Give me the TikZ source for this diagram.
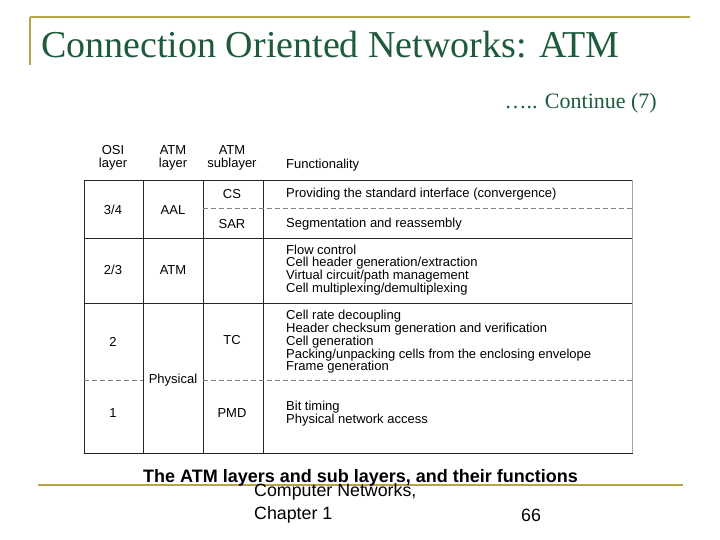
\documentclass[tikz,border=0pt]{standalone}
\usepackage{fontspec}
\setmainfont{Liberation Serif}
\newfontfamily\arial{Liberation Sans}
\definecolor{gold}{HTML}{B8A24A}
\definecolor{tgreen}{HTML}{1E5A3C}
\begin{document}
\begin{tikzpicture}[x=1pt,y=-1pt,
  tb/.style={font=\arial\fontsize{13}{13}\selectfont,inner sep=0pt,align=center},
  fn/.style={font=\arial\fontsize{13}{13}\selectfont,inner sep=0pt,align=left,anchor=west},
  grid/.style={line width=0.8pt,black!85},
  dsh/.style={line width=0.6pt,gray,dash pattern=on 5pt off 3pt}]
\useasboundingbox (0,0) rectangle (720,540);
\fill[white] (0,0) rectangle (720,540);
% gold rules
\draw[gold,line width=1.5pt] (30,17) -- (690,17);
\draw[gold,line width=1.5pt] (30,17) -- (30,65);
\draw[gold,line width=1.2pt] (38,485) -- (683,485);
% title
\node[anchor=west,text=tgreen,font=\fontsize{38}{40}\selectfont,inner sep=0pt] (title) at (41,45) {Connection Oriented Networks: ATM};
\node[anchor=east,text=tgreen,font=\fontsize{22}{24}\selectfont,inner sep=0pt] (cont) at (657,103) {….. Continue (7)};
% table lines
\draw[grid] (84,180) rectangle (632,453);
\draw[grid] (143,180) -- (143,453);
\draw[grid] (203,180) -- (203,453);
\draw[grid] (263,180) -- (263,453);
\draw[grid] (84,238) -- (632,238);
\draw[grid] (84,303) -- (632,303);
\draw[dsh] (203,208) -- (632,208);
\draw[dsh] (84,380) -- (143,380);
\draw[dsh] (203,380) -- (632,380);
\draw[gray!70,line width=0.8pt] (632,180) -- (632,453);
% headers
\node[tb] (h1) at (113,158) {OSI\\layer};
\node[tb] (h2) at (173,158) {ATM\\layer};
\node[tb] (h3) at (232,158) {ATM\\sublayer};
\node[fn] (h4) at (286,165) {Functionality};
% column 1
\node[tb] (o1) at (113,210) {3/4};
\node[tb] (o2) at (113,270) {2/3};
\node[tb] (o3) at (113,342) {2};
\node[tb] (o4) at (113,413) {1};
% column 2
\node[tb] (a1) at (173,210) {AAL};
\node[tb] (a2) at (173,270) {ATM};
\node[tb] (a3) at (173,380) {Physical};
% column 3
\node[tb] (s1) at (232,194) {CS};
\node[tb] (s2) at (232,224) {SAR};
\node[tb] (s3) at (232,340) {TC};
\node[tb] (s4) at (232,413) {PMD};
% functionality
\node[fn] (f1) at (286,194) {Providing the standard interface (convergence)};
\node[fn] (f2) at (286,224) {Segmentation and reassembly};
\node[fn,font=\arial\fontsize{13}{12.9}\selectfont] (f3) at (286,270) {Flow control\\Cell header generation/extraction\\Virtual circuit/path management\\Cell multiplexing/demultiplexing};
\node[fn,font=\arial\fontsize{13}{12.7}\selectfont] (f4) at (286,342) {Cell rate decoupling\\Header checksum generation and verification\\Cell generation\\Packing/unpacking cells from the enclosing envelope\\Frame generation};
\node[fn,font=\arial\fontsize{13}{12.9}\selectfont] (f5) at (286,414) {Bit timing\\Physical network access};
% caption and footer
\node[anchor=west,font=\arial\bfseries\fontsize{18}{20}\selectfont,inner sep=0pt] (cap) at (143,478) {The ATM layers and sub layers, and their functions};
\node[anchor=west,font=\arial\fontsize{17.8}{20}\selectfont,inner sep=0pt] (ft1) at (254,492) {Computer Networks,};
\node[anchor=west,font=\arial\fontsize{17.8}{20}\selectfont,inner sep=0pt] (ft2) at (254,515) {Chapter 1};
\node[anchor=west,font=\arial\fontsize{17.8}{20}\selectfont,inner sep=0pt] (ft3) at (521,515) {66};
\end{tikzpicture}
\end{document}
